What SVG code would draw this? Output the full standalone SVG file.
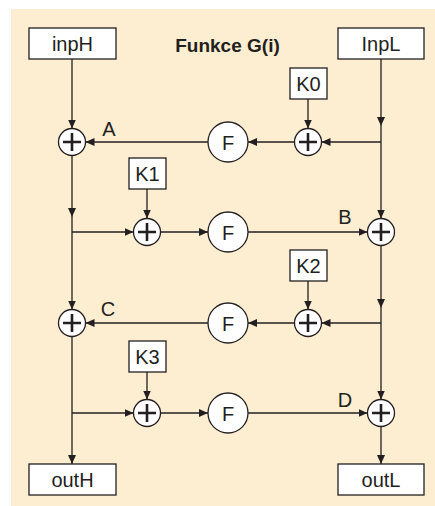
<svg xmlns="http://www.w3.org/2000/svg" width="435" height="506" viewBox="0 0 435 506">
<defs>
<marker id="ah" markerUnits="userSpaceOnUse" markerWidth="10" markerHeight="9" refX="9" refY="4" orient="auto">
<path d="M0,0 L9,4 L0,8 z" fill="#231f20"/>
</marker>
<g id="plus"><path d="M-9,0 H9 M0,-9 V9" stroke="#231f20" stroke-width="2.6" fill="none"/></g>
</defs>
<style>
.box{fill:#fff;stroke:#231f20;stroke-width:1.3}
.xor{fill:#fff;stroke:#231f20;stroke-width:1.3}
.fc{fill:#fff;stroke:#231f20;stroke-width:1.3}
.t{font-family:"Liberation Sans",Arial,sans-serif;font-size:20px;fill:#231f20;text-anchor:middle}
.title{font-weight:bold;font-size:19px}
.c path{stroke:#231f20;stroke-width:1.3;fill:none;marker-end:url(#ah)}
</style>
<rect x="11" y="9" width="424" height="497" fill="#fdeed2"/>
<text class="t title" x="227.5" y="52">Funkce G(i)</text>
<g class="c" id="connectors">
<path d="M72,59 V128.5"/>
<path d="M381,59 V126"/>
<path d="M381,126 V218.5"/>
<path d="M381,142 H321.5"/>
<path d="M308,99 V128.5"/>
<path d="M294.5,142 H248"/>
<path d="M208,142 H85.5"/>
<path d="M72,155.5 V217"/>
<path d="M72,217 V309.5"/>
<path d="M72,232 H133.5"/>
<path d="M147,189 V218.5"/>
<path d="M160.5,232 H208"/>
<path d="M248,232 H367.5"/>
<path d="M381,245.5 V308"/>
<path d="M381,308 V399.5"/>
<path d="M381,323 H321.5"/>
<path d="M308,281 V309.5"/>
<path d="M294.5,323 H248"/>
<path d="M208,323 H85.5"/>
<path d="M72,336.5 V464"/>
<path d="M72,413 H133.5"/>
<path d="M147,372 V399.5"/>
<path d="M160.5,413 H208"/>
<path d="M248,413 H367.5"/>
<path d="M381,426.5 V464"/>
</g>
<g id="inpH"><rect class="box" x="29" y="28" width="87" height="31"/><text class="t" x="72.5" y="51">inpH</text></g>
<g id="InpL"><rect class="box" x="338" y="28" width="86" height="31"/><text class="t" x="381" y="51">InpL</text></g>
<g id="K0"><rect class="box" x="290" y="68" width="37" height="31"/><text class="t" x="308.5" y="91">K0</text></g>
<g id="K1"><rect class="box" x="129" y="158" width="37" height="31"/><text class="t" x="147.5" y="181">K1</text></g>
<g id="K2"><rect class="box" x="290" y="250" width="37" height="31"/><text class="t" x="308.5" y="273">K2</text></g>
<g id="K3"><rect class="box" x="129" y="341" width="37" height="31"/><text class="t" x="147.5" y="364">K3</text></g>
<g id="outH"><rect class="box" x="29" y="464" width="87" height="31"/><text class="t" x="72.5" y="487">outH</text></g>
<g id="outL"><rect class="box" x="338" y="464" width="86" height="31"/><text class="t" x="381" y="487">outL</text></g>
<g id="xorA"><circle class="xor" cx="72" cy="142" r="13.5"/><use href="#plus" x="72" y="142"/></g>
<g id="xorK0"><circle class="xor" cx="308" cy="142" r="13.5"/><use href="#plus" x="308" y="142"/></g>
<g id="xorK1"><circle class="xor" cx="147" cy="232" r="13.5"/><use href="#plus" x="147" y="232"/></g>
<g id="xorB"><circle class="xor" cx="381" cy="232" r="13.5"/><use href="#plus" x="381" y="232"/></g>
<g id="xorC"><circle class="xor" cx="72" cy="323" r="13.5"/><use href="#plus" x="72" y="323"/></g>
<g id="xorK2"><circle class="xor" cx="308" cy="323" r="13.5"/><use href="#plus" x="308" y="323"/></g>
<g id="xorK3"><circle class="xor" cx="147" cy="413" r="13.5"/><use href="#plus" x="147" y="413"/></g>
<g id="xorD"><circle class="xor" cx="381" cy="413" r="13.5"/><use href="#plus" x="381" y="413"/></g>
<g id="F1"><circle class="fc" cx="228" cy="142" r="20"/><text class="t" x="228" y="149.5">F</text></g>
<g id="F2"><circle class="fc" cx="228" cy="232" r="20"/><text class="t" x="228" y="239.5">F</text></g>
<g id="F3"><circle class="fc" cx="228" cy="323" r="20"/><text class="t" x="228" y="330.5">F</text></g>
<g id="F4"><circle class="fc" cx="228" cy="413" r="20"/><text class="t" x="228" y="420.5">F</text></g>
<text class="t" x="109" y="136">A</text>
<text class="t" x="345" y="224">B</text>
<text class="t" x="108" y="316">C</text>
<text class="t" x="345" y="407">D</text>
</svg>
